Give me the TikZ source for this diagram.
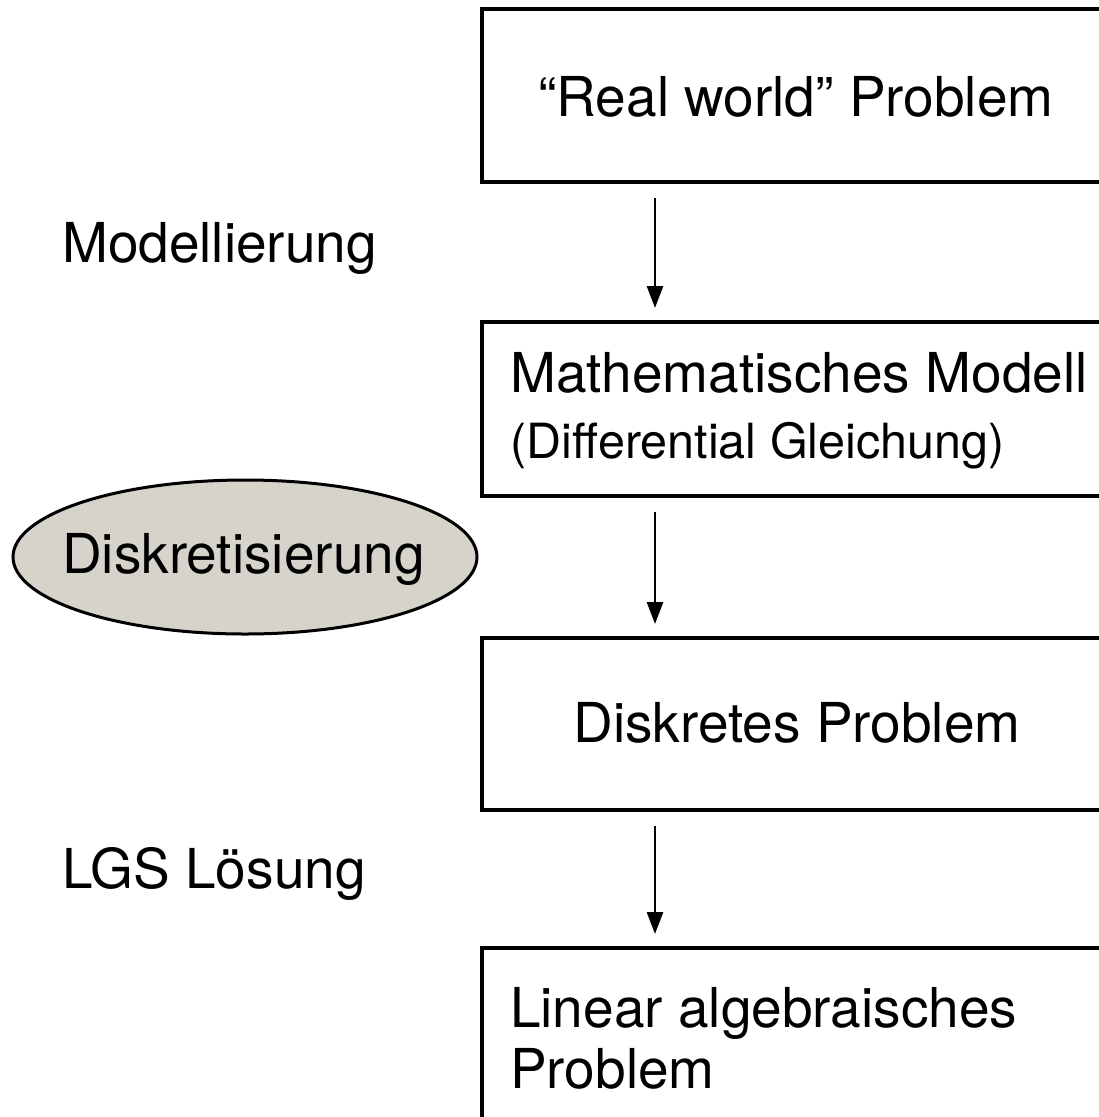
\documentclass[tikz,border=0pt]{standalone}
\usepackage{fontspec}
\setmainfont{TeX Gyre Heros}
\usetikzlibrary{arrows.meta,shapes.geometric}
\definecolor{ellfill}{RGB}{214,211,203}
\begin{document}
\begin{tikzpicture}[x=1pt,y=-1pt,
  box/.style={draw, line width=3.5pt, anchor=north west, minimum width=629pt, inner sep=0pt, outer sep=0pt},
  big/.style={font=\fontsize{55}{66}\selectfont, inner sep=0pt},
  small/.style={font=\fontsize{48.5}{58}\selectfont, inner sep=0pt},
  arr/.style={line width=2.8pt, -{Triangle[length=22pt,width=16pt]}, shorten <=16pt, shorten >=14pt}]
\useasboundingbox (0,0) rectangle (1099,1117);
\clip (0,0) rectangle (1099,1117);
% boxes
\node[box, minimum height=173pt] (b1) at (482,9) {};
\node[box, minimum height=174pt] (b2) at (482,322) {};
\node[box, minimum height=172pt] (b3) at (482,638) {};
\node[box, minimum height=190pt] (b4) at (482,948) {};
% ellipse
\node[ellipse, draw, line width=3pt, fill=ellfill, minimum width=464pt, minimum height=154pt, inner sep=0pt] (ell) at (245,557) {};
% texts
\node[big, anchor=base] (t1) at (796,116) {“Real world” Problem};
\node[big, anchor=base west] (t2a) at (510,392) {Mathematisches Modell};
\node[small, anchor=base west] (t2b) at (510,458) {(Differential Gleichung)};
\node[big, anchor=base] (t3) at (797,742) {Diskretes Problem};
\node[big, anchor=base west] (t4a) at (510,1027) {Linear algebraisches};
\node[big, anchor=base west] (t4b) at (510,1088) {Problem};
\node[big, anchor=base west] (l1) at (62,262) {Modellierung};
\node[big, anchor=base west] (l2) at (62,573) {Diskretisierung};
\node[big, anchor=base west] (l3) at (62,888) {LGS Lösung};
% arrows
\coordinate (ax) at (655,0);
\draw[arr] (b1.south -| ax) -- (b2.north -| ax);
\draw[arr] (b2.south -| ax) -- (b3.north -| ax);
\draw[arr] (b3.south -| ax) -- (b4.north -| ax);
\end{tikzpicture}
\end{document}
